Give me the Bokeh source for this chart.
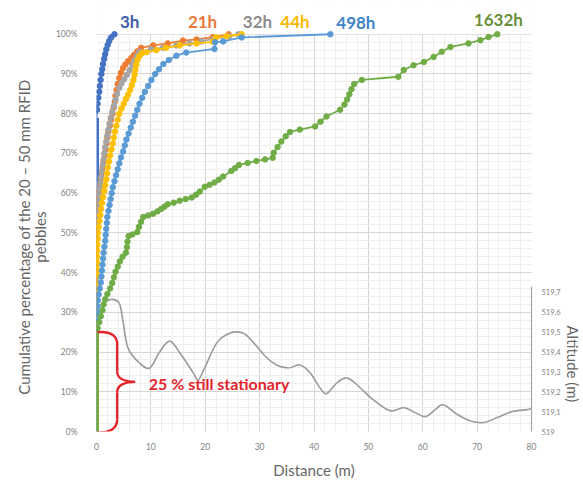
import math

from bokeh.plotting import figure
from bokeh.models import (Range1d, LinearAxis, Label, Title, SingleIntervalTicker,
                          FixedTicker, CustomJSTickFormatter)
from bokeh.embed import file_html
from bokeh.resources import INLINE

FONT = "Lato"

# ---- cumulative displacement curves of the RFID pebbles -------------------
durations = ["3h", "21h", "32h", "44h", "498h", "1632h"]
colors = ["#4472C4", "#ED7D31", "#A5A5A5", "#FFC000", "#5B9BD5", "#70AD47"]
label_colors = ["#3F5EA6", "#E8793A", "#8C8C8C", "#F7B900", "#3F84C6", "#6A8F3A"]

# share of pebbles that did not move (%), drawn as the vertical run at 0 m
still_pct = [79, 56, 52, 38, 27, 25]

dist_3h = [0.1, 0.2, 0.35, 0.5, 0.6, 0.75, 0.9, 1.05, 1.2, 1.4, 1.6, 1.8, 2.05, 2.35, 2.7, 3.3]
pct_3h = [81, 82.5, 84, 85.5, 87, 88.5, 90, 91.2, 92.5, 93.8, 95, 96.2, 97.3, 98.3, 99.2, 100]

dist_21h = [0.15, 0.35, 0.55, 0.7, 0.85, 1.0, 1.15, 1.3, 1.5, 1.7, 1.85, 2.0, 2.2, 2.45, 2.7,
            2.95, 3.15, 3.35, 3.5, 3.7, 3.9, 4.2, 4.5, 4.9, 5.3, 5.8, 6.4, 6.9, 7.5, 8.2,
            10.4, 13.1, 15.9, 18.4, 21.4, 24.3]
pct_21h = [57.5, 59, 60.5, 62, 63.5, 65, 66.5, 68, 69.5, 71, 72.5, 74, 75.5, 77, 78.5,
           80, 81.5, 83, 84.5, 86, 87.5, 89, 90.3, 91.5, 92.4, 93.2, 94, 94.8, 95.7, 96.6,
           97.2, 97.7, 98.4, 98.7, 99.3, 100]

dist_32h = [0.1, 0.2, 0.3, 0.4, 0.5, 0.6, 0.7, 0.85, 1.0, 1.15, 1.3, 1.45, 1.6, 1.8, 2.0,
            2.2, 2.4, 2.65, 2.9, 3.2, 3.5, 3.8, 4.2, 4.6, 5.1, 5.6, 6.1, 6.6, 7.0, 7.4,
            7.9, 10.0, 12.2, 14.7, 17.1, 19.3, 21.6, 24.4, 26.1]
pct_32h = [53.5, 55, 56.5, 58, 59.5, 61, 62.5, 64, 65.5, 67, 68.5, 70, 71.5, 73, 74.5,
           76, 77.5, 79, 80.5, 82, 83.5, 85, 86.5, 87.6, 88.7, 89.8, 91, 92.3, 93.5, 94.6,
           95.6, 96.2, 96.6, 97.2, 97.7, 98.2, 98.9, 99.5, 100]

dist_44h = [0.05, 0.05, 0.1, 0.1, 0.1, 0.15, 0.2, 0.25, 0.4, 0.55, 0.7, 0.85, 1.0, 1.2, 1.4,
            1.6, 1.8, 1.95, 2.1, 2.3, 2.5, 2.75, 3.0, 3.2, 3.4, 3.65, 3.9, 4.2, 4.6, 5.0,
            5.4, 5.8, 6.2, 6.5, 6.8, 7.0, 7.15, 7.3, 7.5, 7.9, 8.4, 9.2, 11.0, 12.8, 15.3,
            18.4, 21.4, 22.0, 23.9, 26.7]
pct_44h = [39.5, 41, 42.5, 44, 45.5, 47, 48.5, 50, 51.5, 53, 54.5, 56, 57.5, 59, 60.5,
           62, 63.5, 65, 66.5, 68, 69.5, 71, 72.5, 74, 75.5, 77, 78.5, 80, 81.3, 82.5,
           83.7, 84.8, 86, 87.2, 88.5, 89.8, 91, 92.3, 93.5, 94.5, 95.2, 95.5, 96, 96.6, 97.2,
           97.7, 98.1, 99.2, 99.5, 100]

dist_498h = [0.1, 0.15, 0.2, 0.25, 0.4, 0.6, 0.8, 0.9, 1.0, 1.1, 1.2, 1.3, 1.45, 1.6, 1.7,
             1.8, 1.9, 2.0, 2.2, 2.4, 2.6, 2.8, 3.0, 3.3, 3.6, 3.9, 4.2, 4.5, 4.9, 5.2,
             5.5, 5.9, 6.3, 6.7, 7.1, 7.5, 7.9, 8.4, 8.9, 9.5, 10.1, 10.8, 11.5, 12.3, 13.3,
             14.7, 16.5, 21.7, 21.8, 23.3, 26.7, 43.0]
pct_498h = [28.5, 30, 31.5, 33, 34.5, 36, 37.5, 39, 40.5, 42, 43.5, 45, 46.5, 48, 49.5,
            51, 52.5, 54, 55.5, 57, 58.5, 60, 61.5, 63, 64.5, 66, 67.5, 69, 70.5, 72,
            73.5, 75, 76.5, 78, 79.5, 81, 82.5, 84, 85.5, 87, 88.5, 90, 91.2, 92.5, 93.5,
            94.6, 95.4, 96.3, 98.0, 98.2, 99.2, 100]

dist_1632h = [0.2, 0.5, 0.8, 1.1, 1.3, 1.6, 2.0, 2.5, 2.9, 3.2, 3.5, 3.9, 4.3, 4.8, 5.4,
              5.6, 5.7, 5.9, 6.6, 7.5, 7.8, 8.2, 8.6, 9.5, 10.4, 11.2, 11.9, 12.5, 13.1, 14.2,
              15.3, 16.4, 17.5, 18.3, 19.0, 19.9, 20.8, 21.7, 22.5, 23.3, 24.8, 25.5, 26.2, 27.8, 29.4,
              31.0, 32.4, 32.6, 33.3, 34.0, 34.8, 35.6, 37.4, 40.2, 41.2, 42.3, 44.8, 45.6, 46.1, 46.5,
              46.9, 47.4, 48.8, 55.5, 56.5, 58.3, 60.2, 62.0, 63.5, 65.1, 68.4, 70.6, 72.1, 73.7]
pct_1632h = [26, 27.5, 29, 30.5, 32, 33.3, 34.6, 36, 37.4, 38.8, 40.2, 41.5, 42.8, 44, 45,
             46.4, 47.8, 49.2, 49.6, 50.2, 51.5, 52.8, 54, 54.4, 54.8, 55.4, 56, 56.6, 57.2, 57.6,
             58.1, 58.5, 58.9, 59.6, 60.4, 61.6, 62.1, 62.7, 63.4, 64.2, 65.6, 66.3, 67.1, 67.6, 68.1,
             68.5, 68.9, 70.2, 71.6, 73, 74.3, 75.4, 76, 76.8, 78, 79.3, 81, 82.3, 83.6, 84.9,
             86.2, 87.5, 88.5, 89.3, 91, 92.2, 93, 94.3, 95.6, 96.8, 97.7, 98.5, 99.3, 100]

# ---- riverbed altitude profile along the reach ---------------------------
alt_dist = [1.2, 2.7, 4.2, 4.9, 5.8, 7.9, 9.8, 11.6, 13.5, 15.6, 17.8, 18.7, 19.9, 22.1,
            24.5, 27.0, 28.8, 31.0, 33.1, 35.3, 37.4, 39.3, 41.1, 42.3, 44.2, 46.0, 47.9,
            50.9, 54.0, 56.5, 58.6, 60.5, 62.3, 63.8, 66.3, 68.8, 71.2, 73.7, 76.4, 79.2, 80.0]
alt_m = [519.645, 519.665, 519.645, 519.55, 519.42, 519.345, 519.32, 519.40, 519.455,
         519.385, 519.295, 519.26, 519.32, 519.445, 519.495, 519.495, 519.45, 519.38,
         519.335, 519.32, 519.335, 519.295, 519.22, 519.19, 519.245, 519.27, 519.235,
         519.16, 519.105, 519.12, 519.095, 519.075, 519.11, 519.135, 519.087, 519.053,
         519.045, 519.07, 519.10, 519.11, 519.115]

series = [
    (dist_3h, pct_3h), (dist_21h, pct_21h), (dist_32h, pct_32h),
    (dist_44h, pct_44h), (dist_498h, pct_498h), (dist_1632h, pct_1632h),
]

Y_TOP = 108.5   # head room above 100 % for the duration labels
PAD = "\u00a0" * 11   # keeps the y title centred on the 0-100 % span

# ---- figure ---------------------------------------------------------------
p = figure(width=583, height=481, x_range=Range1d(0, 80), y_range=Range1d(0, Y_TOP),
           output_backend="svg", toolbar_location=None,
           min_border_left=96, min_border_right=52, min_border_top=0, min_border_bottom=47,
           background_fill_color="white", border_fill_color="white")
p.outline_line_color = None

xt = SingleIntervalTicker(interval=10, num_minor_ticks=5)
yt = SingleIntervalTicker(interval=10, num_minor_ticks=5)

xa = p.below[0]
xa.ticker = xt
xa.axis_line_color = None
xa.major_tick_line_color = None
xa.minor_tick_line_color = None
xa.major_label_standoff = 5
xa.major_label_text_font = FONT
xa.major_label_text_font_size = "8.5px"
xa.major_label_text_color = "#7f7f7f"
xa.axis_label = "Distance (m)"
xa.axis_label_standoff = 8

ya = p.left[0]
ya.ticker = yt
ya.formatter = CustomJSTickFormatter(code="return tick <= 100 ? tick.toFixed(0) + '%' : '';")
ya.axis_line_color = None
ya.major_tick_line_color = None
ya.minor_tick_line_color = None
ya.major_label_standoff = 13
ya.major_label_text_font = FONT
ya.major_label_text_font_size = "8.5px"
ya.major_label_text_color = "#7f7f7f"
ya.axis_label = "pebbles" + PAD
ya.axis_label_standoff = 4

# outer left axis carrying the first line of the y title
ya2 = LinearAxis(axis_label="Cumulative percentage of the 20 \u2013 50 mm RFID" + PAD,
                 axis_label_standoff=-5, axis_line_color=None,
                 ticker=FixedTicker(ticks=[]),
                 major_tick_line_color=None, minor_tick_line_color=None,
                 major_tick_out=0, major_label_standoff=0)
p.add_layout(ya2, "left")

for g, t in ((p.xgrid[0], xt), (p.ygrid[0], yt)):
    g.ticker = t
    g.grid_line_color = "#d6d6d6"
    g.minor_grid_line_color = "#eeeeee"

# secondary axis for the altitude profile
p.extra_y_ranges = {"alt": Range1d(519, 519 + Y_TOP / 50)}
alt_axis = LinearAxis(
    y_range_name="alt", bounds=(518.999, 519.73),
    ticker=SingleIntervalTicker(interval=0.1, num_minor_ticks=0),
    formatter=CustomJSTickFormatter(code=(
        "var s = tick.toFixed(1).replace('.', ',');"
        "return s.endsWith(',0') ? s.slice(0, -2) : s;")),
    axis_line_color="#a6a6a6", axis_line_width=1.2,
    major_tick_line_color=None, minor_tick_line_color=None,
    major_label_standoff=4, major_label_text_font=FONT,
    major_label_text_font_size="7.5px", major_label_text_color="#7f7f7f")
p.add_layout(alt_axis, "right")

for ax in (xa, ya, ya2):
    ax.axis_label_text_font = FONT
    ax.axis_label_text_font_size = "15px"
    ax.axis_label_text_font_style = "normal"
    ax.axis_label_text_color = "#666666"

# title of the altitude axis, set beside its lower part
p.add_layout(Title(text="Altitude (m)", align="left", offset=325, standoff=0,
                   text_font=FONT, text_font_size="15px", text_font_style="normal",
                   text_color="#666666"), "right")

# plain band above 100 % where the duration labels sit
p.quad(left=[0], right=[80], bottom=[100], top=[Y_TOP], fill_color="white", line_color=None)

# smooth altitude profile (Catmull-Rom curve through the surveyed points)
n = len(alt_dist)
bx0, by0, bx1, by1, bcx0, bcy0, bcx1, bcy1 = ([] for _ in range(8))
for i in range(n - 1):
    i0, i3 = max(i - 1, 0), min(i + 2, n - 1)
    xA, yA, xB, yB = alt_dist[i], alt_m[i], alt_dist[i + 1], alt_m[i + 1]
    bx0.append(xA); by0.append(yA); bx1.append(xB); by1.append(yB)
    bcx0.append(xA + (xB - alt_dist[i0]) / 6); bcy0.append(yA + (yB - alt_m[i0]) / 6)
    bcx1.append(xB - (alt_dist[i3] - xA) / 6); bcy1.append(yB - (alt_m[i3] - yA) / 6)
p.bezier(x0=bx0, y0=by0, x1=bx1, y1=by1, cx0=bcx0, cy0=bcy0, cx1=bcx1, cy1=bcy1,
         y_range_name="alt", line_color="#9a9a9a", line_width=1.6)

for (d, pc), col, still in zip(series, colors, still_pct):
    p.segment(x0=[0], y0=[0], x1=[0], y1=[still], line_color=col, line_width=5)
    p.line([0] + d, [still] + pc, line_color=col, line_width=1.8)
    p.scatter(d, pc, size=5.5, fill_color=col, line_color=col)

# curly brace marking the stationary share of the longest survey
top, bot = still_pct[-1], 0
mid = (top + bot) / 2
xa0, xs, xtip = 0.2, 3.8, 7.1
red = "#E3242B"
p.bezier(x0=[xa0, xs, xtip, xs], y0=[top, mid + 2.6, mid, bot + 3],
         x1=[xs, xtip, xs, xa0], y1=[top - 3, mid, mid - 2.6, bot - 0.3],
         cx0=[xs - 1.1, xs, xs + 1.6, xs], cy0=[top + 0.3, mid + 0.7, mid, bot + 0.9],
         cx1=[xs, xs + 1.6, xs, xs - 1.1], cy1=[top - 1.0, mid, mid - 0.7, bot - 0.3],
         line_color=red, line_width=2.4)
p.segment(x0=[xs, xs], y0=[top - 3, mid - 2.6], x1=[xs, xs], y1=[mid + 2.6, bot + 3],
          line_color=red, line_width=2.4)
p.add_layout(Label(x=9.6, y=mid - 0.4, text=f"{still_pct[-1]} % still stationary",
                   text_font=FONT, text_font_style="bold", text_font_size="16px",
                   text_color=red, text_align="left", text_baseline="middle"))

# duration labels above the curves
label_x = [6.1, 19.5, 29.6, 36.5, 47.7, 73.9]
label_y = [103.3, 103.2, 103.2, 103.2, 103.0, 103.6]
for name, col, lx, ly in zip(durations, label_colors, label_x, label_y):
    p.add_layout(Label(x=lx, y=ly, text=name, text_font=FONT, text_font_style="bold",
                       text_font_size="17px", text_color=col,
                       text_align="center", text_baseline="middle"))

open("out.html", "w").write(file_html(p, INLINE))
